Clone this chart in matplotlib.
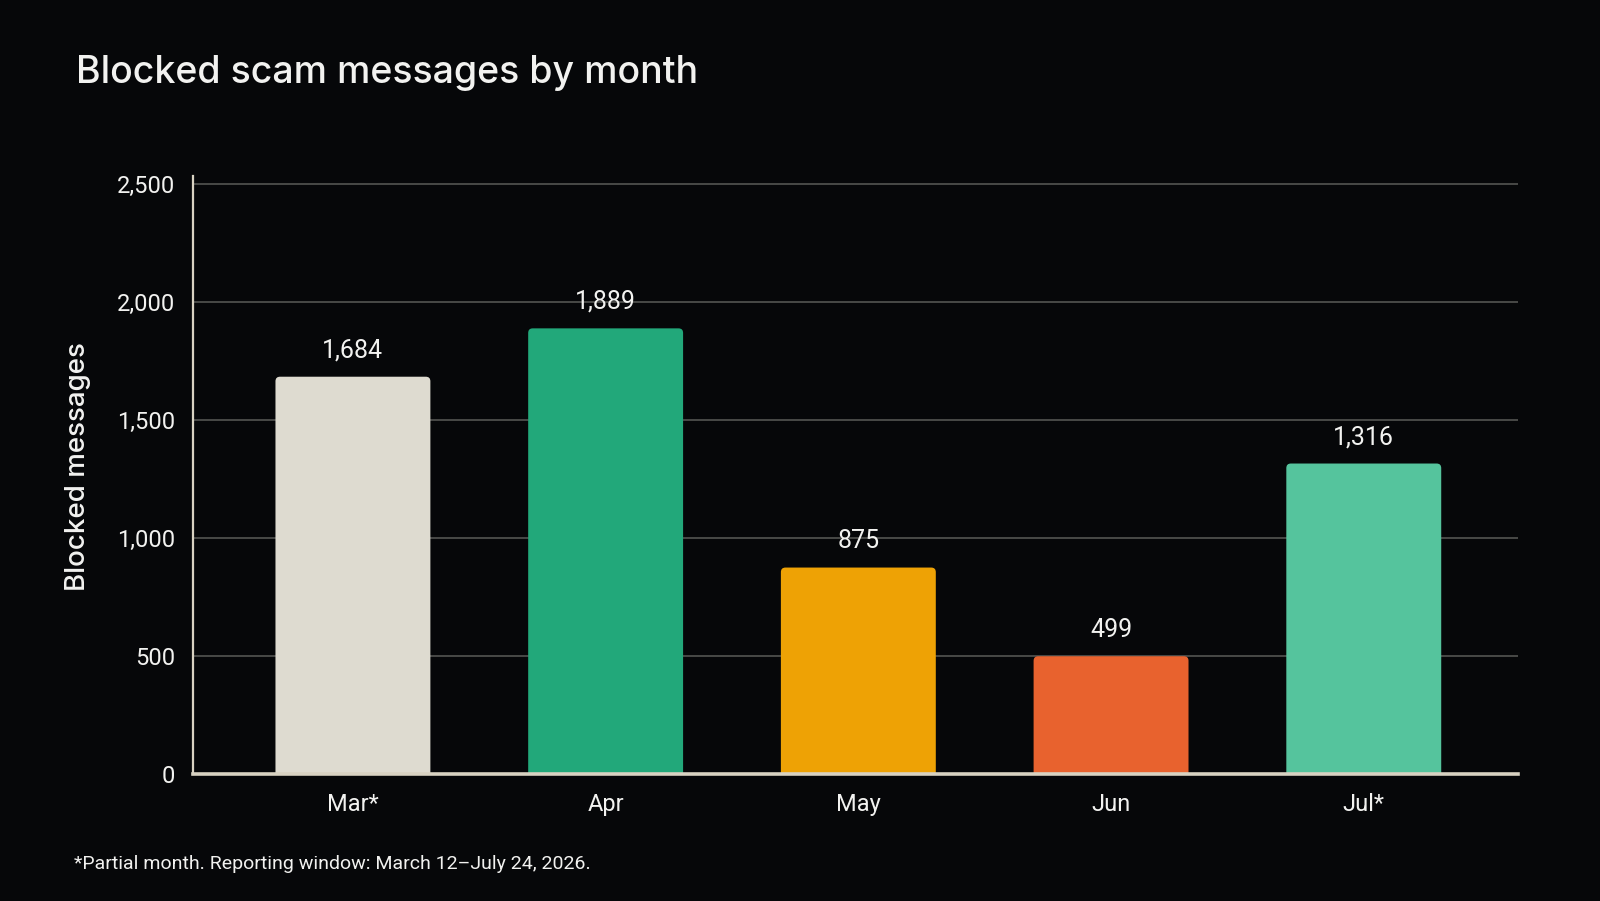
import matplotlib
matplotlib.use("Agg")
import matplotlib.pyplot as plt
from matplotlib.patches import FancyBboxPatch
from matplotlib.ticker import FuncFormatter

months = ["Mar*", "Apr", "May", "Jun", "Jul*"]
blocked = [1684, 1889, 875, 499, 1316]
bar_colors = ["#DEDBD0", "#22A87A", "#EEA205", "#E8622E", "#55C49D"]
y_ticks = [0, 500, 1000, 1500, 2000, 2500]

title = "Blocked scam messages by month"
ylabel = "Blocked messages"
footnote = "*Partial month. Reporting window: March 12\u2013July 24, 2026."

BG = "#060709"
TXT = "#F2F2F0"
GRID = "#4E4E4C"
SPINE = "#D8D2C2"
NARROW = ["Roboto", "DejaVu Sans"]
WIDE = ["Inter", "DejaVu Sans"]

fig = plt.figure(figsize=(16, 9.01), dpi=100, facecolor=BG)
ax = fig.add_axes([0.1206, 0.141, 0.8281, 0.6637], facecolor=BG)

x = list(range(len(months)))
bars = ax.bar(x, blocked, width=0.613, color=bar_colors, zorder=3)

ax.set_xlim(-0.633, 4.61)
ax.set_ylim(0, 2535)

# rounded tops: replace each bar by a rounded patch whose bottom is clipped below 0
fig.canvas.draw()
px_per_x = ax.transData.transform((1, 0))[0] - ax.transData.transform((0, 0))[0]
px_per_y = ax.transData.transform((0, 1))[1] - ax.transData.transform((0, 0))[1]
aspect = px_per_x / px_per_y
extra = 60
for b, c in zip(bars, bar_colors):
    bx, by, bw, bh = b.get_x(), b.get_y(), b.get_width(), b.get_height()
    patch = FancyBboxPatch((bx, by - extra), bw, bh + extra,
                           boxstyle="round,pad=0,rounding_size=0.018",
                           mutation_aspect=aspect, facecolor=c,
                           edgecolor="none", zorder=3)
    ax.add_patch(patch)
    b.set_visible(False)

for xi, v in zip(x, blocked):
    ax.annotate(f"{v:,}", (xi, v), xytext=(0, 14), textcoords="offset points",
                ha="center", va="baseline", color=TXT, fontsize=18,
                family=NARROW, zorder=5)

ax.set_yticks(y_ticks)
ax.yaxis.set_major_formatter(FuncFormatter(lambda v, p: f"{int(v):,}"))
ax.set_xticks(x)
ax.set_xticklabels(months)
ax.tick_params(axis="both", length=0, colors=TXT, labelsize=17)
ax.tick_params(axis="y", pad=13)
ax.tick_params(axis="x", pad=14)
for lab in ax.get_xticklabels() + ax.get_yticklabels():
    lab.set_family(NARROW)

ax.grid(axis="y", color=GRID, linewidth=1.3, zorder=0)
ax.grid(axis="x", visible=False)
for s in ["top", "right"]:
    ax.spines[s].set_visible(False)
ax.spines["left"].set_color(SPINE)
ax.spines["left"].set_linewidth(1.6)
ax.spines["bottom"].set_color(SPINE)
ax.spines["bottom"].set_linewidth(2.6)
ax.spines["bottom"].set_zorder(6)

fig.text(0.0475, 0.9079, title, ha="left", va="baseline", color=TXT,
         fontsize=27, family=WIDE, fontweight="medium")
fig.text(78 / 1600, 1 - 467 / 901, ylabel, rotation=90, ha="center",
         va="center", color=TXT, fontsize=20, family=WIDE, fontweight="medium")
fig.text(73.5 / 1600, 1 - 869 / 901, footnote, ha="left", va="baseline",
         color=TXT, fontsize=14, family=NARROW)

fig.savefig("out.png", dpi=100, facecolor=BG)
